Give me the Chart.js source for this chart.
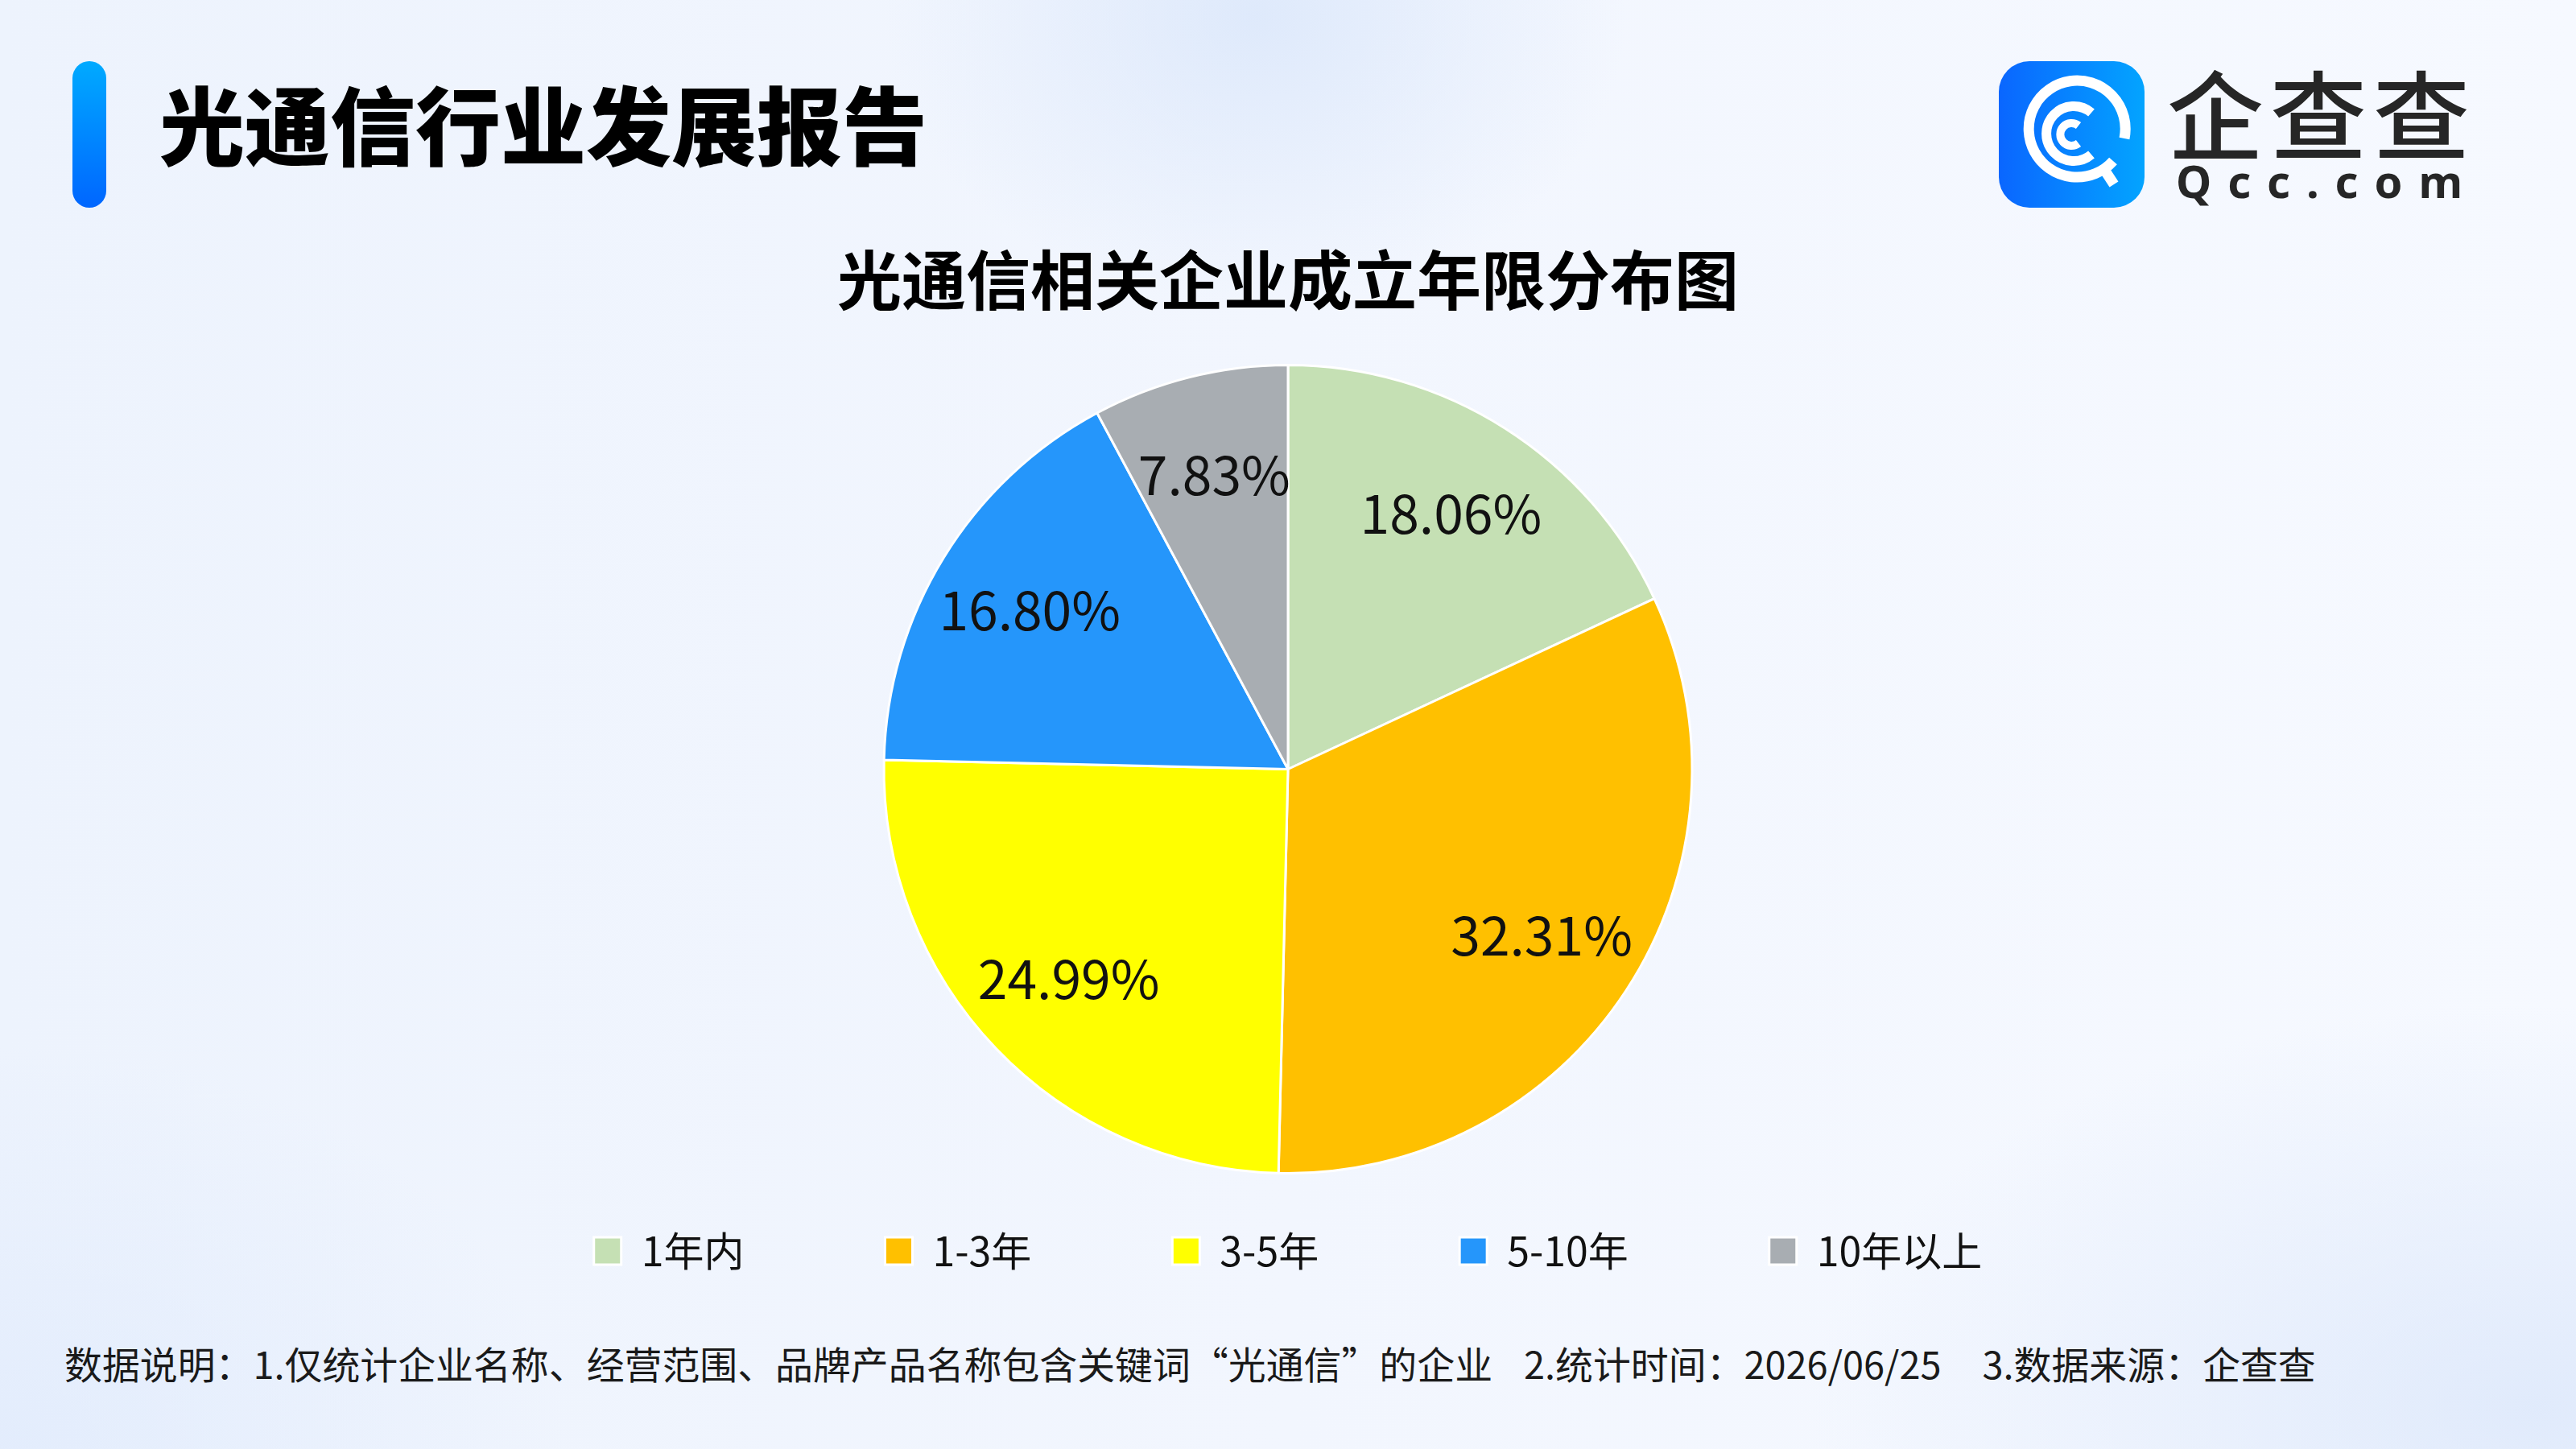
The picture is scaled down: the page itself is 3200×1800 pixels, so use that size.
<!DOCTYPE html>
<html lang="zh-CN">
<head>
    <meta charset="UTF-8">
    <title>光通信行业发展报告</title>
    <script src="https://cdn.jsdelivr.net/npm/chart.js"></script>
    <style>
        html, body { margin: 0; padding: 0; }
        body {
            width: 3200px; height: 1800px; position: relative; overflow: hidden;
            font-family: "Noto Sans CJK SC", "Noto Sans", sans-serif;
            background:
                radial-gradient(ellipse 460px 360px at 1560px 20px, rgba(214,228,250,0.7), rgba(214,228,250,0) 100%),
                radial-gradient(ellipse 900px 500px at 3150px 1750px, rgba(215,228,250,0.7), rgba(215,228,250,0) 100%),
                radial-gradient(ellipse 700px 500px at 0px 1800px, rgba(220,232,252,0.6), rgba(220,232,252,0) 100%),
                linear-gradient(90deg, #edf3fd 0%, #f2f6fe 50%, #f6f9ff 100%);
        }
        .bar {
            position: absolute; left: 90px; top: 76px; width: 42px; height: 182px;
            border-radius: 21px; background: linear-gradient(180deg, #00aaff, #0066ff);
        }
        .head {
            position: absolute; left: 198px; top: 98px; font-size: 106px; line-height: 1;
            font-weight: 900; color: #000;
        }
        .logo {
            position: absolute; left: 2483px; top: 76px; width: 181px; height: 182px;
            border-radius: 38px; background: linear-gradient(90deg, #0a66ff, #03a4ff);
        }
        .logo svg { position: absolute; left: 0; top: 0; }
        .brand {
            position: absolute; left: 2692px; top: 78px; font-size: 120px; line-height: 1;
            font-weight: 500; color: #262626; letter-spacing: 8px;
        }
        .site {
            position: absolute; left: 2703px; top: 196px; width: 356px; display: flex;
            justify-content: space-between; font-family: "Noto Sans", sans-serif;
            font-size: 56px; line-height: 1; font-weight: 700; color: #262626;
        }
        .note {
            position: absolute; left: 80px; top: 1665px; font-size: 46.9px; line-height: 1.2;
            color: #1a1a1a; white-space: nowrap;
        }
        .note span { margin-left: 39px; }
        .note span.last { margin-left: 51px; }
        #chart { position: absolute; left: 0; top: 270px; }
    </style>
</head>
<body>
    <div class="bar"></div>
    <div class="head">光通信行业发展报告</div>
    <div class="logo">
        <svg width="181" height="182" viewBox="0 0 181 182">
            <g fill="none" stroke="#fff" stroke-linecap="butt">
                <path d="M 142 124 A 60 60 0 1 1 156 96" stroke-width="13"/>
                <path d="M 128 130 L 143 153" stroke-width="13"/>
                <path d="M 115 64 A 34 34 0 1 0 115 116" stroke-width="12"/>
                <path d="M 99 80 A 14 14 0 1 0 99 102" stroke-width="10"/>
            </g>
        </svg>
    </div>
    <div class="brand">企查查</div>
    <div class="site"><span>Q</span><span>c</span><span>c</span><span>.</span><span>c</span><span>o</span><span>m</span></div>

    <canvas id="chart" width="3200" height="1319"></canvas>

    <div class="note">数据说明：1.仅统计企业名称、经营范围、品牌产品名称包含关键词“光通信”的企业<span>2.统计时间：2026/06/25</span><span class="last">3.数据来源：企查查</span></div>

    <script>
        // 成立年限分布（%）
        const categories = ['1年内', '1-3年', '3-5年', '5-10年', '10年以上'];
        const shares = [18.06, 32.31, 24.99, 16.80, 7.83];
        const sliceColors = ['#c5e0b4', '#ffc000', '#ffff00', '#2596fb', '#a8adb2'];

        const font = '"Noto Sans CJK SC", "Noto Sans", sans-serif';

        // write the percentage inside each slice
        const sliceLabels = {
            id: 'sliceLabels',
            afterDatasetsDraw(chart) {
                const ctx = chart.ctx;
                const meta = chart.getDatasetMeta(0);
                ctx.save();
                ctx.font = '66px ' + font;
                ctx.fillStyle = '#111';
                ctx.textAlign = 'center';
                ctx.textBaseline = 'middle';
                meta.data.forEach(function(arc, i) {
                    const p = arc.getProps(['x', 'y', 'startAngle', 'endAngle', 'outerRadius'], true);
                    const mid = (p.startAngle + p.endAngle) / 2;
                    const r = p.outerRadius * 0.75;
                    ctx.fillText(shares[i].toFixed(2) + '%', p.x + Math.cos(mid) * r, p.y + Math.sin(mid) * r);
                });
                ctx.restore();
            }
        };

        new Chart(document.getElementById('chart').getContext('2d'), {
            type: 'pie',
            data: {
                labels: categories,
                datasets: [{
                    data: shares,
                    backgroundColor: sliceColors,
                    borderColor: '#ffffff',
                    borderWidth: 3,
                    hoverOffset: 0,
                    radius: 502,
                    clip: false
                }]
            },
            options: {
                responsive: false,
                animation: false,
                plugins: {
                    title: {
                        display: true,
                        text: '光通信相关企业成立年限分布图',
                        color: '#000',
                        font: { family: font, size: 80, weight: 'bold' },
                        padding: { top: 30, bottom: 161 }
                    },
                    legend: {
                        position: 'bottom',
                        labels: {
                            color: '#111',
                            font: { family: font, size: 50 },
                            boxWidth: 34,
                            boxHeight: 34,
                            padding: 175
                        }
                    },
                    tooltip: { enabled: false }
                }
            },
            plugins: [sliceLabels]
        });
    </script>
</body>
</html>
